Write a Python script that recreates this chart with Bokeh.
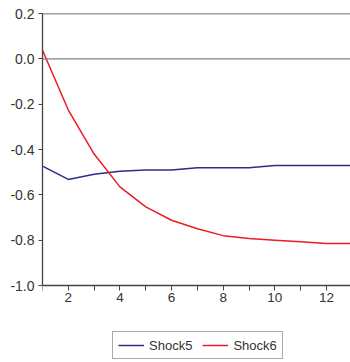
from bokeh.plotting import figure
from bokeh.models import Range1d, FixedTicker, Span, Legend, LegendItem, PrintfTickFormatter
from bokeh.embed import file_html
from bokeh.resources import INLINE

periods = list(range(1, 14))
shock5 = [-0.473, -0.532, -0.509, -0.496, -0.490, -0.490, -0.481, -0.481, -0.481,
          -0.471, -0.471, -0.471, -0.471]
shock6 = [0.038, -0.226, -0.420, -0.565, -0.653, -0.712, -0.750, -0.780, -0.793,
          -0.800, -0.807, -0.815, -0.815]
x_ticks = [2, 4, 6, 8, 10, 12]
x_minor = [1, 3, 5, 7, 9, 11, 13]
y_ticks = [-1.0, -0.8, -0.6, -0.4, -0.2, 0.0, 0.2]

FONT = "Liberation Sans"
TXT = "#333333"
AX = "#444444"

Y_MIN, Y_MAX = -1.0, 0.2
PX_PER_UNIT = 272 / (Y_MAX - Y_MIN)
FRAME_H = 349
y_lo = Y_MAX - FRAME_H / PX_PER_UNIT  # room below the axis for the legend

p = figure(frame_width=308, frame_height=FRAME_H, output_backend="svg", toolbar_location=None,
           x_range=Range1d(1, 12.93), y_range=Range1d(y_lo, Y_MAX),
           min_border_top=13, min_border_right=0, min_border_left=42, min_border_bottom=0)
p.outline_line_color = None
p.grid.visible = False
p.background_fill_color = "white"
p.border_fill_color = "white"

for ax in (p.xaxis[0], p.yaxis[0]):
    ax.axis_line_color = AX
    ax.axis_line_width = 1.3
    ax.major_tick_line_color = AX
    ax.minor_tick_line_color = AX
    ax.major_tick_in = 0
    ax.minor_tick_in = 0
    ax.major_label_text_font = FONT
    ax.major_label_text_color = TXT

p.xaxis[0].ticker = FixedTicker(ticks=x_ticks, minor_ticks=x_minor)
p.xaxis[0].major_tick_out = 5
p.xaxis[0].minor_tick_out = 5
p.xaxis[0].major_label_standoff = 2
p.xaxis[0].major_label_text_font_size = "13.5px"
p.xaxis[0].fixed_location = Y_MIN

p.yaxis[0].ticker = FixedTicker(ticks=y_ticks, minor_ticks=[])
p.yaxis[0].bounds = (Y_MIN, Y_MAX)
p.yaxis[0].major_tick_out = 4
p.yaxis[0].major_label_standoff = 4
p.yaxis[0].major_label_text_font_size = "14px"
p.yaxis[0].formatter = PrintfTickFormatter(format="%.1f")

p.add_layout(Span(location=0.0, dimension="width", line_color="#808080", line_width=1.3))
p.add_layout(Span(location=Y_MAX, dimension="width", line_color=AX, line_width=1.3))

r5 = p.line(periods, shock5, line_color="#2b2d8c", line_width=1.5)
r6 = p.line(periods, shock6, line_color="#ec1c24", line_width=1.5)

legend = Legend(items=[LegendItem(label="Shock5", renderers=[r5]),
                       LegendItem(label="Shock6", renderers=[r6])],
                orientation="horizontal", location=(70, 3))
legend.border_line_color = "#555555"
legend.border_line_width = 1
legend.label_text_font = FONT
legend.label_text_font_size = "13px"
legend.label_text_color = TXT
legend.glyph_width = 26
legend.glyph_height = 16
legend.label_height = 16
legend.label_standoff = 5
legend.spacing = 10
legend.padding = 5
legend.margin = 0
p.add_layout(legend)

open("out.html", "w").write(file_html(p, INLINE))
